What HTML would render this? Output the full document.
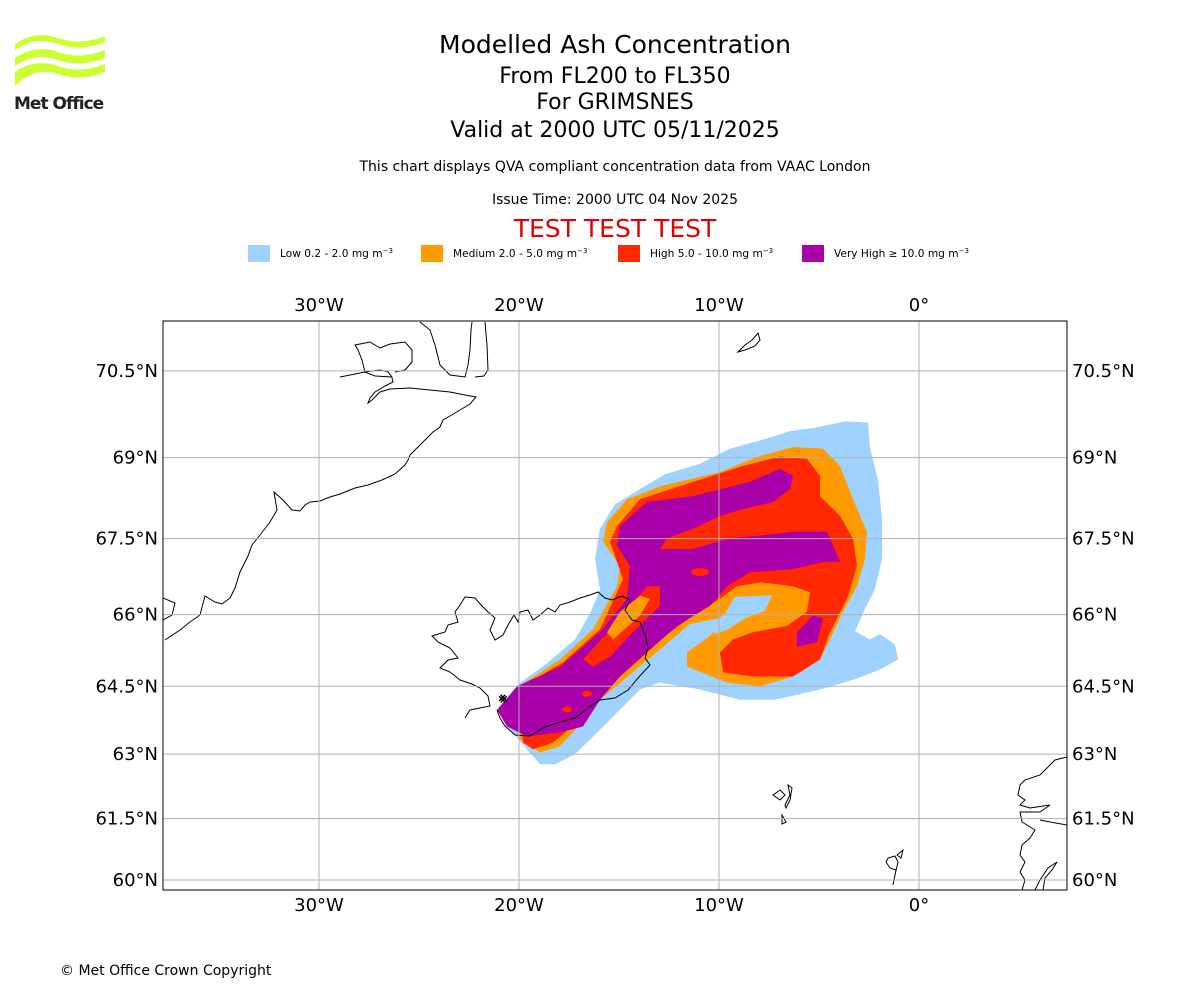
<!DOCTYPE html>
<html><head><meta charset="utf-8"><style>
body{margin:0;background:#fff;font-family:"DejaVu Sans","Liberation Sans",sans-serif}
#root{position:relative;width:1200px;height:1000px;overflow:hidden}
.t{position:absolute;left:0;width:1230px;text-align:center;color:#000}
svg text{font-family:"DejaVu Sans","Liberation Sans",sans-serif}
</style></head><body><div id="root">
<svg width="1200" height="1000" style="position:absolute;left:0;top:0" id="svg">
<g>
<path d="M15 44 Q35 30 58 38 Q80 46 105 36 L105 42 Q80 52 58 44 Q35 36 15 50Z M15 58 Q35 44 58 52 Q80 60 105 50 L105 58 Q80 68 58 60 Q35 52 15 66Z M15 72 Q35 58 58 66 Q80 74 105 64 L105 72 Q80 82 58 74 Q35 66 15 86Z" fill="#ccff33"/>
<text x="14" y="109" font-size="17" font-weight="bold" fill="#222" letter-spacing="-1">Met Office</text>
</g>
<g id="legend"></g>
<clipPath id="clip"><rect x="163" y="321" width="904" height="569"/></clipPath>
<g id="map" clip-path="url(#clip)"></g>
<g id="axes"></g>
<text x="60" y="975" font-size="14">© Met Office Crown Copyright</text>
</svg>
<div class="t" style="top:30px;font-size:25px">Modelled Ash Concentration</div>
<div class="t" style="top:64px;font-size:22px">From FL200 to FL350</div>
<div class="t" style="top:90px;font-size:22px">For GRIMSNES</div>
<div class="t" style="top:118px;font-size:22px">Valid at 2000 UTC 05/11/2025</div>
<div class="t" style="top:159px;font-size:14px">This chart displays QVA compliant concentration data from VAAC London</div>
<div class="t" style="top:192px;font-size:14px">Issue Time: 2000 UTC 04 Nov 2025</div>
<div class="t" style="top:214px;font-size:25px;color:#e00000">TEST TEST TEST</div>
</div>
<script>
const lonTicks=[-30,-20,-10,0];
const lonLabels=["30°W","20°W","10°W","0°"];
const latTicks=[60,61.5,63,64.5,66,67.5,69,70.5];
const latLabels=["60°N","61.5°N","63°N","64.5°N","66°N","67.5°N","69°N","70.5°N"];
const legendLabels=["Low 0.2 - 2.0 mg m","Medium 2.0 - 5.0 mg m","High 5.0 - 10.0 mg m","Very High \u2265 10.0 mg m"];
const legendColors=["#a0d2ff","#ff9b00","#ff2800","#aa00aa"];
const lowLon=[-18.95,-20.45,-20.95,-19.95,-18.7,-17.2,-16.45,-15.95,-16.2,-15.95,-15.2,-13.95,-12.7,-10.95,-9.45,-7.7,-6.45,-5.2,-3.7,-2.55,-2.45,-2.05,-1.85,-1.85,-2.2,-2.7,-3.2,-2.45,-1.95,-1.2,-1.05,-1.95,-3.2,-4.95,-7.2,-8.95,-10.95,-12.95,-13.95,-14.95,-16.2,-17.2,-18.2];
const lowLat=[62.77,63.55,63.99,64.58,64.96,65.49,66.02,66.51,67.11,67.69,68.15,68.43,68.7,68.89,69.16,69.33,69.47,69.53,69.64,69.62,69.16,68.61,67.87,67.11,66.51,66.12,65.66,65.49,65.6,65.39,65.07,64.86,64.65,64.43,64.21,64.21,64.43,64.58,64.43,63.99,63.44,63.0,62.77];
const medLon=[-19.95,-20.25,-17.95,-16.3,-15.1,-14.95,-15.8,-15.6,-14.6,-12.95,-9.95,-7.95,-6.3,-4.8,-3.95,-3.3,-2.6,-2.7,-3.1,-3.8,-4.45,-4.95,-6.3,-7.95,-9.6,-11.6,-11.6,-10.7,-9.95,-10.05,-11.45,-12.95,-14.45,-15.95,-16.95,-17.95,-18.95];
const medLat=[63.33,64.43,65.07,65.7,66.57,66.97,67.44,67.81,68.24,68.48,68.74,69.03,69.19,69.16,68.85,68.24,67.63,67.11,66.57,66.06,65.49,65.07,64.71,64.5,64.58,64.92,65.22,65.49,65.75,65.92,65.81,65.28,64.75,64.21,63.66,63.18,63.04];
const holeLon=[-10.35,-9.7,-9.2,-7.35,-7.7,-8.7,-9.55,-10.2];
const holeLat=[65.81,66.02,66.36,66.39,66.08,65.92,65.7,65.6];
const highLon=[-19.8,-20.1,-17.8,-15.95,-14.8,-15.45,-15.1,-13.95,-11.3,-8.8,-6.95,-5.6,-4.95,-4.95,-3.95,-3.3,-3.1,-3.6,-4.45,-4.95,-6.3,-8.3,-9.8,-9.95,-9.3,-8.3,-6.6,-5.6,-5.45,-6.3,-7.95,-9.1,-9.95,-11.3,-12.95,-14.6,-15.95,-16.95,-18.3,-19.3];
const highLat=[63.26,64.43,65.01,65.7,66.71,67.44,67.74,68.24,68.56,68.85,69.02,68.98,68.67,68.3,67.93,67.5,66.97,66.32,65.64,65.07,64.71,64.71,64.8,65.22,65.49,65.64,65.77,66.06,66.45,66.57,66.65,66.57,66.32,65.98,65.49,65.01,64.43,63.77,63.26,63.11];
const vhLon=[-21.1,-20.1,-17.95,-15.95,-14.6,-14.45,-15.1,-14.95,-13.6,-11.3,-8.45,-6.95,-6.3,-6.45,-7.3,-8.8,-9.95,-11.3,-12.6,-12.95,-11.3,-9.6,-7.95,-6.3,-4.6,-3.95,-4.8,-6.3,-8.45,-9.6,-10.45,-12.1,-13.6,-14.95,-15.95,-16.8,-17.95,-19.6,-20.6];
const vhLat=[63.99,64.5,64.92,65.64,66.32,66.97,67.36,67.74,68.19,68.3,68.56,68.8,68.67,68.43,68.19,68.06,67.93,67.69,67.5,67.3,67.3,67.5,67.56,67.63,67.63,67.05,67.05,66.91,66.85,66.57,66.18,65.77,65.22,64.71,64.21,63.62,63.49,63.4,63.62];
const highPatchLon=[-16.8,-14.95,-13.6,-12.95,-12.95,-14.3,-15.45,-16.3];
const highPatchLat=[65.07,65.92,66.57,66.57,66.18,65.64,65.13,64.92];
const medPatchLon=[-15.6,-14.95,-13.95,-13.45,-13.95,-15.3];
const medPatchLat=[65.64,66.06,66.38,66.32,65.98,65.49];
const vhPatchLon=[-6.1,-5.3,-4.8,-5.1,-6.1];
const vhPatchLat=[65.64,65.98,65.92,65.43,65.34];
const highBlobLon=[-10.95,-16.6,-17.6];
const highBlobLat=[66.85,64.34,64.0];

const NS="http://www.w3.org/2000/svg";
const L=163,R=1067,T=321,B=890;
function x(lon){return 919+20*lon;}
function merc(lat){return Math.log(Math.tan(Math.PI/4+lat*Math.PI/360));}
function y(lat){return 880-1145.9*(merc(lat)-merc(60));}
function mk(tag,attrs,parent){const e=document.createElementNS(NS,tag);for(const k in attrs)e.setAttribute(k,attrs[k]);parent.appendChild(e);return e;}
const map=document.getElementById('map'),axes=document.getElementById('axes'),leg=document.getElementById('legend');
function poly(lons,lats,color,name){
  const p=mk('polygon',{points:lons.map((v,i)=>x(v).toFixed(1)+','+y(lats[i]).toFixed(1)).join(' '),fill:color},map);
  
  
}
poly(lowLon,lowLat,legendColors[0],'ash-low-contour');
poly(medLon,medLat,legendColors[1],'ash-medium-contour');
poly(holeLon,holeLat,legendColors[0],'ash-low-gap');
poly(highLon,highLat,legendColors[2],'ash-high-contour');
poly(vhLon,vhLat,legendColors[3],'ash-very-high-contour');
poly(highPatchLon,highPatchLat,legendColors[2],'ash-high-patch');
poly(medPatchLon,medPatchLat,legendColors[1],'ash-medium-patch');
poly(vhPatchLon,vhPatchLat,legendColors[3],'ash-very-high-patch');
highBlobLon.forEach((v,i)=>{
  const e=mk('ellipse',{cx:x(v),cy:y(highBlobLat[i]),rx:i?5:9,ry:i?3:4,fill:legendColors[2]},map);
  
  
});
const coast=[
"M163 598 L175 603 L172 615 L163 620",
"M165 640 L180 630 L190 622 L200 615 L205 596 L215 602 L222 604 L230 598 L235 588 L240 572 L248 556 L252 545 L260 535 L270 522 L277 510 L274 492 L283 500 L292 510 L300 511 L305 505 L310 502 L320 501 L330 497 L340 494 L355 488 L368 485 L382 480 L395 474 L405 465 L408 460 L410 455 L418 447 L425 440 L433 432 L440 427 L443 420 L450 416 L460 410 L470 404 L476 397 L465 395 L450 392 L430 390 L410 388 L390 389 L380 392 L372 400 L368 403 L370 398 L375 392 L385 386 L393 382 L392 378",
"M340 377 L355 374 L365 372 L375 376 L392 377 L388 372 L380 370 L365 372 L362 360 L358 350 L355 345 L370 342 L380 348 L390 344 L405 342 L412 350 L412 362 L405 370 L395 372",
"M420 322 L430 330 L435 345 L440 365 L450 375 L465 377 L468 365 L470 350 L471 330 L472 322",
"M485 322 L487 345 L488 370 L484 376 L475 377",
"M465 718 L470 710 L490 706 L488 696 L480 688 L472 684 L460 680 L450 672 L440 668 L448 660 L458 658 L450 648 L438 642 L432 636 L445 632 L448 625 L458 622 L455 612 L460 605 L465 597 L475 598 L482 606 L488 612 L495 618 L490 630 L495 640 L503 635 L508 625 L514 615 L518 622 L520 612 L528 610 L533 620 L540 615 L548 608 L555 612 L560 605 L570 602 L580 598 L590 595 L598 592 L605 598 L612 600 L622 596 L630 600 L625 610 L632 620 L640 622 L645 635 L648 648 L645 658 L650 665 L638 678 L628 690 L615 698 L600 700 L588 708 L575 718 L560 722 L545 727 L530 736 L515 735 L505 726 L500 718 L497 710",
"M738 352 L745 345 L752 340 L758 333 L760 340 L755 346 L745 350 Z",
"M773 795 L780 790 L785 795 L780 800 Z M785 805 L790 795 L788 785 L792 788 L790 800 L786 808 Z M782 815 L786 822 L782 824 Z",
"M888 858 L895 856 L898 862 L895 875 L893 885 L896 870 L890 868 L886 862 Z M897 855 L903 850 L901 858 Z",
"M1067 757 L1055 760 L1045 770 L1040 775 L1025 780 L1020 785 L1018 795 L1025 800 L1020 805 L1030 808 L1050 805 L1040 812 L1020 812 L1022 822 L1035 830 L1030 838 L1022 845 L1020 855 L1025 862 L1020 872 L1025 880 L1022 890 M1035 890 L1040 880 L1048 868 L1057 862 L1052 870 L1045 878 L1043 890 M1040 820 L1050 822 L1067 825"
];
coast.forEach(d=>{const c=mk('path',{d:d,fill:'none',stroke:'#000','stroke-width':1},map);

});
const vm=mk('text',{x:x(-20.8),y:y(64.15),'font-size':14,'font-weight':'bold','text-anchor':'middle'},map);
vm.textContent='\u2A33';


lonTicks.forEach((v,i)=>{
  const g=mk('line',{x1:x(v),x2:x(v),y1:T,y2:B,stroke:'#b0b0b0','stroke-width':1},map);
  
  
  [[T-10,'top'],[B+21,'bottom']].forEach(([yy,s])=>{
    const t=mk('text',{x:x(v),y:yy,'font-size':18,'text-anchor':'middle'},axes);t.textContent=lonLabels[i];
    
    
  });
});
latTicks.forEach((v,i)=>{
  const g=mk('line',{x1:L,x2:R,y1:y(v),y2:y(v),stroke:'#b0b0b0','stroke-width':1},map);
  
  
  const a=mk('text',{x:158,y:y(v)+6,'font-size':18,'text-anchor':'end'},axes);a.textContent=latLabels[i];
  
  
  const b=mk('text',{x:1072,y:y(v)+6,'font-size':18},axes);b.textContent=latLabels[i];
  
  
});
const fr=mk('rect',{x:L,y:T,width:R-L,height:B-T,fill:'none',stroke:'#000','stroke-width':1},axes);


const lx=[248,421,618,802];
legendLabels.forEach((s,i)=>{
  const r=mk('rect',{x:lx[i],y:245,width:22,height:17,fill:legendColors[i]},leg);
  
  
  const t=mk('text',{x:lx[i]+32,y:257,'font-size':10.6},leg);
  t.textContent=s;
  const sup=mk('tspan',{dy:-4,'font-size':7},t);sup.textContent='\u22123';
  
  
});
</script></body></html>
